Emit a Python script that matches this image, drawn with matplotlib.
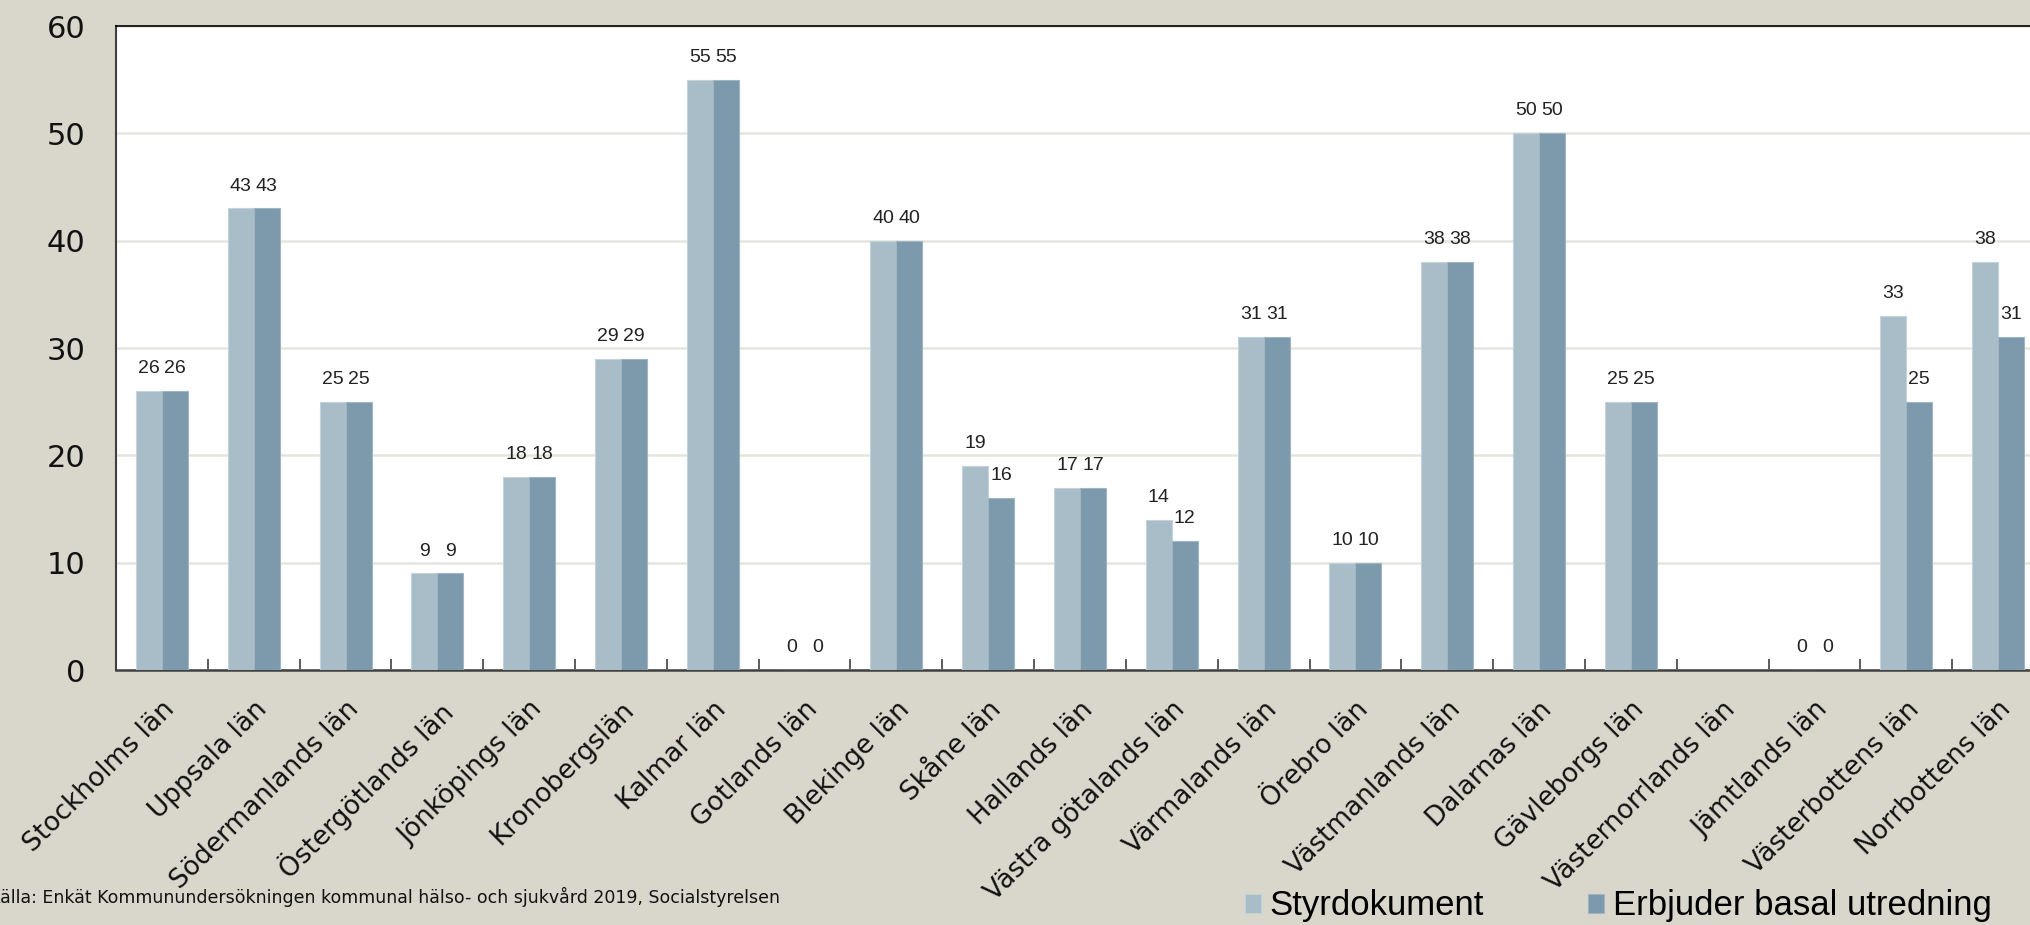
import matplotlib.pyplot as plt
import numpy as np

# Data
lan = ['Stockholms län', 'Uppsala län', 'Södermanlands län', 'Östergötlands län',
       'Jönköpings län', 'Kronobergslän', 'Kalmar län', 'Gotlands län', 'Blekinge län',
       'Skåne län', 'Hallands län', 'Västra götalands län', 'Värmalands län',
       'Örebro län', 'Västmanlands län', 'Dalarnas län', 'Gävleborgs län',
       'Västernorrlands län', 'Jämtlands län', 'Västerbottens län', 'Norrbottens län']
styrdokument = [26, 43, 25, 9, 18, 29, 55, 0, 40, 19, 17, 14, 31, 10, 38, 50, 25, np.nan, 0, 33, 38]
erbjuder = [26, 43, 25, 9, 18, 29, 55, 0, 40, 16, 17, 12, 31, 10, 38, 50, 25, np.nan, 0, 25, 31]
series_names = ['Styrdokument', 'Erbjuder basal utredning']
source = 'Källa: Enkät Kommunundersökningen kommunal hälso- och sjukvård 2019, Socialstyrelsen'

bg = '#d9d7cb'
c_light = '#a8bdc8'
c_dark = '#7d9aac'

W, H = 2030, 925
fig = plt.figure(figsize=(W / 100, H / 100), dpi=100, facecolor=bg)
# plot area runs past the right edge of the figure, as in the reference
ax = fig.add_axes([116 / W, 1 - 670 / H, 1928 / W, 644 / H])
ax.set_facecolor('white')

x = np.arange(len(lan))
w = 0.283
b1 = ax.bar(x - w / 2, styrdokument, w, color=c_light, edgecolor='#c4d2da', linewidth=0.8,
            label=series_names[0], zorder=3)
b2 = ax.bar(x + w / 2, erbjuder, w, color=c_dark, edgecolor='#9fb5c2', linewidth=0.8,
            label=series_names[1], zorder=3)

# value labels above bars (missing values get none)
for bars, vals in ((b1, styrdokument), (b2, erbjuder)):
    for bar, v in zip(bars, vals):
        if np.isnan(v):
            continue
        ax.annotate(f'{int(v)}', xy=(bar.get_x() + bar.get_width() / 2, v),
                    xytext=(0, 10), textcoords='offset points',
                    ha='center', va='bottom', fontsize=14, color='#222222',
                    family='Liberation Sans')

ax.set_xlim(-0.5, len(lan) - 0.5)
ax.set_ylim(0, 60)
ax.set_yticks(range(0, 61, 10))
ax.tick_params(axis='y', length=0, pad=22, labelsize=22, labelcolor='#111111')
ax.yaxis.grid(True, color='#e6e5dd', linewidth=1.8, zorder=0)
ax.set_axisbelow(True)

# tick marks between categories, labels at the centres
ax.set_xticks(np.arange(len(lan) + 1) - 0.5, [''] * (len(lan) + 1))
ax.set_xticks(x, lan, minor=True)
ax.tick_params(axis='x', which='major', direction='in', length=8, width=1.2, color='#404040')
ax.tick_params(axis='x', which='minor', length=0, pad=19, labelsize=19, labelcolor='#111111')
for lbl in ax.get_xticklabels(minor=True):
    lbl.set_rotation(45)
    lbl.set_ha('right')
    lbl.set_va('top')
    lbl.set_rotation_mode('anchor')

ax.spines['left'].set_color('#404040')
ax.spines['left'].set_linewidth(1.5)
ax.spines['bottom'].set_color('#404040')
ax.spines['bottom'].set_linewidth(1.8)
ax.spines['top'].set_color('#000000')
ax.spines['top'].set_linewidth(1.2)
ax.spines['right'].set_visible(False)

fig.text(-11 / W, 1 - 897 / H, source, ha='left', va='center', fontsize=12.5, color='#111111')

fig.legend(handles=[b1, b2], labels=series_names, loc='center left',
           bbox_to_anchor=(1245 / W, 1 - 906 / H), ncol=2, frameon=False,
           prop={'family': 'Liberation Sans', 'size': 25},
           handlelength=0.46, handleheight=0.46, handletextpad=0.25,
           columnspacing=3.0, borderpad=0, borderaxespad=0)

fig.savefig('out.png', dpi=100, facecolor=bg)
